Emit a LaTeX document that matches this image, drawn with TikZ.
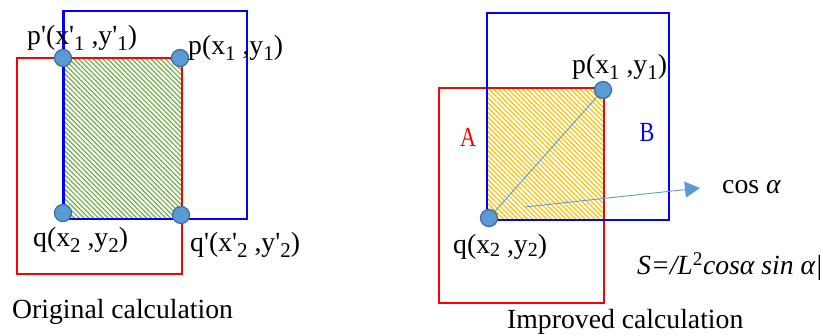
\documentclass[tikz,border=0pt]{standalone}
\usepackage{fontspec}
\newfontfamily\tms{Liberation Serif}
\usetikzlibrary{patterns.meta,arrows.meta}
\definecolor{dotblue}{HTML}{5B9BD5}
\definecolor{dotedge}{HTML}{41719C}
\definecolor{hgreen}{HTML}{70AD47}
\definecolor{horange}{HTML}{FFC000}
\definecolor{rred}{HTML}{FF0000}
\definecolor{bblue}{HTML}{0000FF}
\newcommand{\sbl}[1]{\raisebox{-0.45ex}{\fontsize{21}{21}\selectfont #1}}
\newcommand{\sbs}[1]{\raisebox{-0.2ex}{\fontsize{20}{20}\selectfont #1}}
\begin{document}
\begin{tikzpicture}[x=1pt,y=-1pt,
  font=\tms\fontsize{27.7}{30}\selectfont,
  boxr/.style={draw=rred,line width=2.8pt},
  boxb/.style={draw=bblue,line width=2.8pt},
  pt/.style={circle,fill=dotblue,draw=dotedge,line width=1.3pt,minimum size=17pt,inner sep=0pt},
  lbl/.style={anchor=west,inner sep=0pt},
  conn/.style={draw=dotblue,line width=0.9pt},
  hatchg/.style={pattern={Lines[angle=-45,distance=3.4pt,line width=1.2pt]},pattern color=hgreen},
  hatcho/.style={pattern={Lines[angle=-45,distance=3.4pt,line width=1.2pt]},pattern color=horange}]
\useasboundingbox (0,0) rectangle (823,336);
% ---------- left panel ----------
\coordinate (LB1) at (63.5,11); \coordinate (LB2) at (247,219);
\coordinate (LR1) at (17,58);   \coordinate (LR2) at (182,274);
\fill[hatchg] (63.5,58) rectangle (182,219);
\draw[boxr] (LR1) rectangle (LR2);
\draw[boxb] (LB1) rectangle (LB2);
\node[pt] (pp) at (63,58) {};
\node[pt] (p)  at (180,58) {};
\node[pt] (q)  at (63,213) {};
\node[pt] (qp) at (181,215) {};
\node[lbl] (lpp) at (27,38) {p'(x'\sbl{1} ,y'\sbl{1})};
\node[lbl] (lp)  at (188,48) {p(x\sbl{1} ,y\sbl{1})};
\node[lbl] (lq)  at (33,240) {q(x\sbl{2} ,y\sbl{2})};
\node[lbl] (lqp) at (190,245) {q'(x'\sbl{2} ,y'\sbl{2})};
\node[lbl] (orig) at (12,312) {Original calculation};
% ---------- right panel ----------
\coordinate (RB1) at (487,13); \coordinate (RB2) at (669,220);
\coordinate (RR1) at (439,88); \coordinate (RR2) at (604,303);
\fill[hatcho] (487,88) rectangle (604,220);
\draw[boxr] (RR1) rectangle (RR2);
\draw[boxb] (RB1) rectangle (RB2);
\node[pt] (rq) at (489,218) {};
\node[pt] (rp) at (603,90) {};
\draw[conn] (rq) -- (rp);
\coordinate (as) at (525,207);
\coordinate (ae) at (700,188);
\draw[conn,-{Triangle[length=15pt,width=16pt]}] (as) -- (ae);
\node[lbl] (lrp) at (572,67) {p(x\sbl{1} ,y\sbl{1})};
\node[lbl] (lrq) at (453,247) {q(x\sbs{2} ,y\sbs{2})};
\node[text=rred,xscale=0.8] (A) at (468,137) {A};
\node[text=bblue,xscale=0.8] (B) at (647,132) {B};
\node[lbl] (cos) at (722,187) {cos {\itshape α}};
\node[lbl] (S) at (637,267) {\itshape S=/L\textsuperscript{\upshape 2}cosα sin α|};
\node[lbl] (impr) at (507,322) {Improved calculation};
\end{tikzpicture}
\end{document}
